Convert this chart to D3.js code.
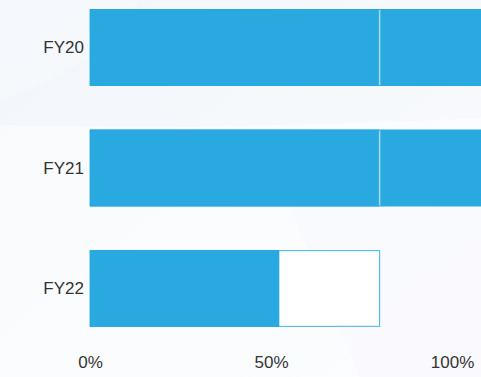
<!DOCTYPE html>
<html><head><meta charset="utf-8">
<script src="https://cdn.jsdelivr.net/npm/d3@7"></script>
<style>html,body{margin:0;padding:0;overflow:hidden;background:#fff}svg{display:block}</style>
</head><body>
<script>
const categories = ["FY20", "FY21", "FY22"];
const actualValues = [120, 118, 52.3];
const targetValues = [80, 80, 80];
const tickValues = [0, 50, 100];

const W = 481, H = 377;
const svg = d3.select("body").append("svg").attr("width", W).attr("height", H);

// background
const defs = svg.append("defs");
const g1 = defs.append("linearGradient").attr("id","bg").attr("x1","0").attr("y1","0").attr("x2","1").attr("y2","1");
g1.append("stop").attr("offset","0").attr("stop-color","#f2f6fa");
g1.append("stop").attr("offset","0.5").attr("stop-color","#f6f9fc");
g1.append("stop").attr("offset","1").attr("stop-color","#fafbfe");
svg.append("rect").attr("width",W).attr("height",H).attr("fill","url(#bg)");
svg.append("path").attr("d","M0,125 C120,128 260,128 481,118 L481,377 L0,377 Z").attr("fill","#ffffff").attr("opacity",0.45);
svg.append("path").attr("d","M290,206 L481,206 L481,377 L360,377 Z").attr("fill","#f8f9fd").attr("opacity",0.6);
svg.append("path").attr("d","M0,0 L140,0 C110,40 70,80 0,100 Z").attr("fill","#f7fafd").attr("opacity",0.6);

const x = d3.scaleLinear().domain([0, 100]).range([90, 452]);
const y = d3.scaleBand().domain(categories).range([9, 327]).paddingInner(0.361).paddingOuter(0);

const data = categories.map((c, i) => ({c, a: actualValues[i], t: targetValues[i]}));
const rows = svg.append("g").selectAll("g").data(data).join("g");

rows.append("rect")
  .attr("x", x(0)).attr("y", d => y(d.c) + 0.6)
  .attr("width", d => x(d.t) - x(0)).attr("height", y.bandwidth() - 1.2)
  .attr("fill", "#ffffff").attr("stroke", "#5dbde9").attr("stroke-width", 1.2);

rows.append("rect")
  .attr("x", x(0)).attr("y", d => y(d.c))
  .attr("width", d => x(d.a) - x(0)).attr("height", y.bandwidth())
  .attr("fill", "#29a9e0");

rows.filter(d => d.a > d.t).append("line")
  .attr("x1", d => x(d.t)).attr("x2", d => x(d.t))
  .attr("y1", d => y(d.c) + 1).attr("y2", d => y(d.c) + y.bandwidth() - 1)
  .attr("stroke", "#a6daf3").attr("stroke-width", 1.5);

rows.append("text")
  .attr("x", x(0) - 6).attr("y", d => y(d.c) + y.bandwidth() / 2)
  .attr("dy", "0.35em").attr("text-anchor", "end")
  .attr("font-family", "Liberation Sans, Arial, sans-serif").attr("font-size", 17)
  .attr("fill", "#333333").text(d => d.c);

const axis = d3.axisBottom(x).tickValues(tickValues).tickSize(0).tickPadding(3).tickFormat(d => d + "%");
const ag = svg.append("g").attr("transform", "translate(0,353)").call(axis);
ag.select(".domain").remove();
ag.selectAll("text").attr("font-family", "Liberation Sans, Arial, sans-serif").attr("font-size", 17).attr("fill", "#333333");
</script>
</body></html>
